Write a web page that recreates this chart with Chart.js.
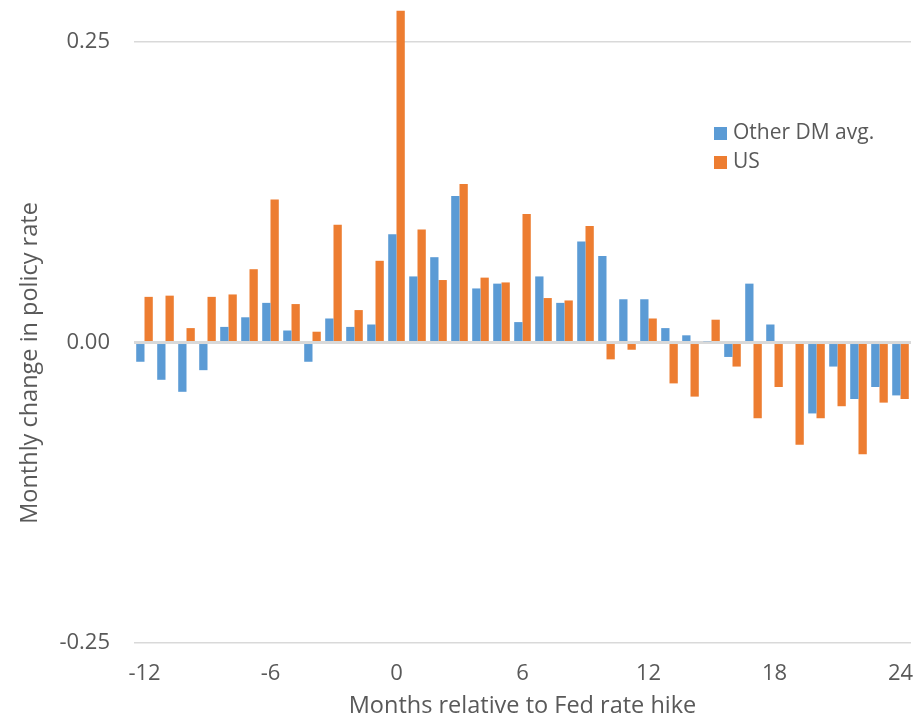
<!DOCTYPE html>
<html>
<head>
<meta charset="utf-8">
<script src="https://cdn.jsdelivr.net/npm/chart.js@4.4.0/dist/chart.umd.min.js"></script>
<style>
  body { margin: 0; background: #fff; }
  #wrap { width: 913px; height: 720px; }
</style>
</head>
<body>
<div id="wrap"><canvas id="policy_chart" width="913" height="720"></canvas></div>
<script>
// months relative to the Fed hike
var months = [];
for (var m = -12; m <= 24; m++) months.push(m);

var other_dm = [-0.016, -0.031, -0.041, -0.023, 0.013, 0.021, 0.033, 0.010, -0.016, 0.020, 0.013, 0.015,
    0.090, 0.055, 0.071, 0.122, 0.045, 0.049, 0.017, 0.055, 0.033, 0.084, 0.072, 0.036,
    0.036, 0.012, 0.006, 0.001, -0.012, 0.049, 0.015, 0, -0.059, -0.020, -0.047, -0.037, -0.044];
var us = [0.038, 0.039, 0.012, 0.038, 0.040, 0.061, 0.119, 0.032, 0.009, 0.098, 0.027, 0.068,
    0.276, 0.094, 0.052, 0.132, 0.054, 0.050, 0.107, 0.037, 0.035, 0.097, -0.014, -0.006,
    0.020, -0.034, -0.045, 0.019, -0.020, -0.063, -0.037, -0.085, -0.063, -0.053, -0.093, -0.050, -0.047];
var y_ticks = [-0.25, 0, 0.25];

var txt = "#595959";
var font_family = "'Open Sans', sans-serif";
var y_title = "Monthly change in policy rate";

// legend inside the plot (upper right) + y title placed like the excel one
var extras = {
    id: "extras",
    afterDraw: function(chart) {
        var c = chart.ctx;
        c.save();
        c.font = "21px " + font_family;
        c.textBaseline = "middle";
        chart.data.datasets.forEach(function(ds, i) {
            var y = 133 + i * 29;
            c.fillStyle = ds.backgroundColor;
            c.fillRect(714, y - 6, 13, 13);
            c.fillStyle = txt;
            c.fillText(ds.label, 733, y);
        });
        c.translate(30, 363);
        c.rotate(-Math.PI / 2);
        c.textAlign = "center";
        c.font = "23.5px " + font_family;
        c.fillText(y_title, 0, 0);
        c.restore();
    }
};

var ctx = document.getElementById("policy_chart");
var chart = new Chart(ctx, {
    type: "bar",
    data: {
        labels: months,
        datasets: [{
            label: "Other DM avg.",
            data: other_dm,
            backgroundColor: "#5B9BD5"
        }, {
            label: "US",
            data: us,
            backgroundColor: "#ED7D31"
        }]
    },
    plugins: [extras],
    options: {
        responsive: false,
        devicePixelRatio: 1,
        animation: false,
        categoryPercentage: 0.79,
        barPercentage: 1,
        layout: { padding: { top: 6, right: 2, left: 16, bottom: 0 } },
        plugins: {
            legend: { display: false },
            tooltip: { enabled: false }
        },
        scales: {
            x: {
                grid: { display: false, drawTicks: false },
                border: { display: false },
                afterFit: function(axis) {
                    axis.height = 77;
                    axis.paddingLeft = 0;
                    axis.paddingRight = 0;
                },
                ticks: {
                    autoSkip: false,
                    maxRotation: 0,
                    padding: 18,
                    color: txt,
                    font: { family: font_family, size: 22 },
                    callback: function(value, index) {
                        var v = months[index];
                        return v % 6 === 0 ? String(v) : "";
                    }
                },
                title: {
                    display: true,
                    text: "Months relative to Fed rate hike",
                    color: txt,
                    font: { family: font_family, size: 23.5 },
                    padding: { top: 4, bottom: 0 }
                }
            },
            y: {
                min: -0.25,
                max: 0.28,
                afterBuildTicks: function(axis) {
                    axis.ticks = y_ticks.map(function(v) { return { value: v }; });
                },
                afterFit: function(axis) {
                    axis.width = 118;
                    axis.paddingTop = 0;
                    axis.paddingBottom = 0;
                },
                grid: {
                    color: "#D9D9D9",
                    lineWidth: function(c) { return c.tick && c.tick.value === 0 ? 3 : 1.5; },
                    drawTicks: false
                },
                border: { display: false },
                ticks: {
                    padding: 24,
                    color: txt,
                    font: { family: font_family, size: 22 },
                    callback: function(v) { return v.toFixed(2); }
                }
            }
        }
    }
});
</script>
</body>
</html>
